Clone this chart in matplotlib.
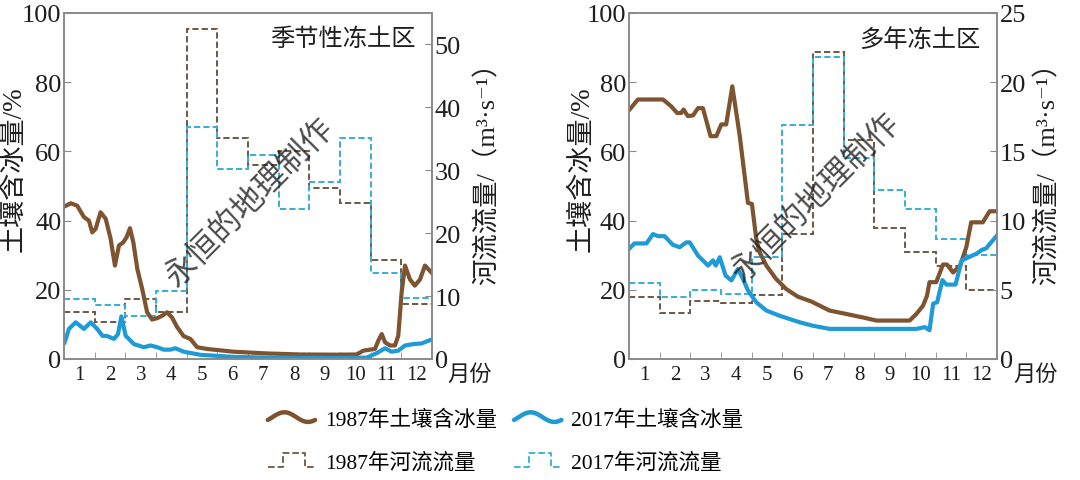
import numpy as np
import matplotlib
matplotlib.use("Agg")
import matplotlib.pyplot as plt
from matplotlib.lines import Line2D
from matplotlib.legend_handler import HandlerBase

FAM = ['Liberation Serif', 'Noto Sans CJK SC', 'DejaVu Serif']
plt.rcParams['font.family'] = FAM

months = np.arange(1, 13)
month_edges = np.arange(0.5, 13.0, 1.0)

# ---- Seasonal frozen ground (left panel) ----
s_flow_1987 = [7.4, 5.9, 9.6, 7.4, 52.4, 35.1, 30.9, 33.0, 27.2, 24.8, 15.7, 8.7]
s_flow_2017 = [9.6, 8.6, 6.9, 10.8, 36.9, 30.2, 32.5, 23.8, 28.2, 35.1, 13.6, 9.7]

s_ice_1987_x = [0.52, 0.72, 0.93, 1.15, 1.31, 1.42, 1.53, 1.69, 1.86, 2.02, 2.16, 2.29, 2.43, 2.54,
                2.65, 2.76, 2.89, 3.05, 3.21, 3.37, 3.54, 3.70, 3.86, 4.02, 4.19, 4.40, 4.62, 4.84,
                5.16, 6.03, 7.12, 8.20, 9.29, 10.04, 10.26, 10.48, 10.64, 10.75, 10.86, 10.97,
                11.13, 11.29, 11.40, 11.51, 11.62, 11.78, 11.94, 12.11, 12.27, 12.48]
s_ice_1987_y = [44.1, 45.0, 44.3, 41.0, 40.0, 36.6, 37.6, 42.4, 40.5, 34.7, 27.0, 32.8, 33.7, 35.2,
                37.8, 33.7, 26.0, 20.2, 13.5, 11.4, 11.8, 12.5, 13.5, 12.0, 9.2, 6.6, 5.8, 3.4,
                2.9, 2.1, 1.6, 1.3, 1.25, 1.3, 2.4, 2.7, 2.9, 5.3, 7.2, 4.8,
                3.9, 3.9, 6.7, 19.3, 27.0, 23.0, 21.2, 23.0, 27.0, 25.0]

s_ice_2017_x = [0.52, 0.66, 0.88, 1.15, 1.37, 1.58, 1.75, 1.91, 2.13, 2.26, 2.37, 2.51, 2.78, 3.10,
                3.32, 3.54, 3.75, 3.97, 4.13, 4.40, 4.95, 6.03, 7.12, 9.29, 10.37, 10.70, 10.97,
                11.18, 11.40, 11.62, 11.89, 12.16, 12.48]
s_ice_2017_y = [4.8, 8.7, 10.6, 8.7, 10.6, 8.7, 6.7, 6.6, 5.8, 7.2, 12.3, 6.7, 4.3, 3.4,
                3.9, 3.4, 2.7, 2.7, 3.1, 2.1, 1.2, 0.6, 0.4, 0.3, 0.4, 1.7, 3.1,
                2.1, 2.4, 3.9, 4.3, 4.5, 5.6]

# ---- Permafrost (right panel) ----
p_flow_1987 = [4.5, 3.3, 4.2, 4.05, 4.65, 9.0, 22.2, 15.8, 9.5, 7.7, 6.7, 5.0]
p_flow_2017 = [5.5, 4.45, 5.0, 4.7, 7.35, 16.9, 21.85, 14.5, 12.2, 10.85, 8.7, 7.5]

p_ice_1987_x = [0.52, 0.79, 1.61, 1.88, 2.07, 2.20, 2.28, 2.42, 2.59, 2.75, 2.91, 3.16, 3.35, 3.51,
                3.67, 3.87, 4.11, 4.38, 4.51, 4.65, 4.76, 4.98, 5.30, 5.63, 6.01, 6.45, 7.04,
                7.59, 8.13, 8.57, 9.65, 9.87, 10.09, 10.22, 10.30, 10.52, 10.74, 10.87, 11.07,
                11.30, 11.50, 11.66, 12.04, 12.26, 12.48]
p_ice_1987_y = [72.1, 75.0, 75.0, 73.0, 71.1, 71.1, 72.1, 70.2, 70.4, 72.5, 72.5, 64.4, 64.4, 67.8,
                67.8, 78.8, 64.6, 45.1, 44.8, 34.7, 30.8, 27.0, 23.1, 20.2, 18.0, 16.6, 14.0,
                13.0, 12.0, 11.1, 11.1, 13.0, 15.4, 18.3, 22.2, 22.2, 27.3, 27.3, 25.0,
                27.0, 32.3, 39.5, 39.5, 42.7, 42.7]

p_ice_2017_x = [0.50, 0.68, 1.07, 1.28, 1.45, 1.66, 1.93, 2.15, 2.37, 2.48, 2.75, 3.08, 3.24, 3.33,
                3.46, 3.65, 3.84, 4.05, 4.22, 4.38, 4.65, 4.98, 5.41, 6.07, 6.50, 7.04, 9.87,
                10.15, 10.30, 10.42, 10.55, 10.72, 10.85, 11.15, 11.35, 11.60, 11.85, 12.00,
                12.15, 12.48]
p_ice_2017_y = [31.8, 33.4, 33.4, 36.1, 35.5, 35.5, 33.0, 32.3, 33.7, 33.7, 29.9, 27.0, 28.5, 27.0,
                29.4, 24.1, 22.7, 26.0, 23.1, 19.8, 16.4, 14.0, 12.5, 10.6, 9.6, 8.7, 8.7,
                9.2, 8.3, 16.0, 16.4, 22.8, 21.5, 21.5, 28.5, 29.5, 30.5, 31.5,
                32.0, 35.5]

legend_labels = ['1987年土壤含冰量', '2017年土壤含冰量', '1987年河流流量', '2017年河流流量']

BROWN = '#7d5330'
BLUE = '#1e9ad6'
BROWN_D = '#6e5744'
BLUE_D = '#35aed6'
SPINE = '#8a8a8a'
TXT = '#1e1e1e'

fig = plt.figure(figsize=(10.8, 4.81), dpi=100)

def make_panel(rect, flow87, flow17, x87, y87, x17, y17, rmax, rticks, title):
    ax = fig.add_axes(rect)
    ax2 = ax.twinx()
    ax.set_zorder(ax2.get_zorder() + 1)
    ax.patch.set_visible(False)

    ax2.stairs(flow87, month_edges, baseline=None, color=BROWN_D, lw=1.4,
               linestyle=(0, (3.2, 1.6)))
    ax2.stairs(flow17, month_edges, baseline=None, color=BLUE_D, lw=1.4,
               linestyle=(0, (3.2, 1.6)))
    ax.plot(x87, y87, color=BROWN, lw=3.0, solid_joinstyle='round')
    ax.plot(x17, y17, color=BLUE, lw=3.0, solid_joinstyle='round')

    ax.set_xlim(0.5, 12.5)
    ax.set_ylim(0, 100)
    ax2.set_ylim(0, rmax)
    ax.set_yticks([0, 20, 40, 60, 80, 100])
    ax2.set_yticks(rticks)
    ax.set_xticks(months)
    ax.set_xticks(np.arange(1.5, 12.0, 1.0), minor=True)
    ax.tick_params(axis='x', which='major', length=0, labelsize=15, pad=4, labelcolor=TXT)
    ax.tick_params(axis='x', which='minor', direction='in', length=5, color=SPINE)
    ax.tick_params(axis='y', direction='in', length=5, color=SPINE, labelsize=19, pad=2,
                   labelcolor=TXT)
    ax2.tick_params(axis='y', direction='in', length=5, color=SPINE, labelsize=19, pad=2,
                    labelcolor=TXT)
    for a in (ax, ax2):
        for s in a.spines.values():
            s.set_color(SPINE)
            s.set_linewidth(1.2)
    ax.text(0.955, 0.925, title, transform=ax.transAxes, ha='right', va='center',
            fontsize=17.5, color=TXT)
    return ax, ax2

axL = make_panel([0.0593, 0.2516, 0.3407, 0.7193], s_flow_1987, s_flow_2017,
                 s_ice_1987_x, s_ice_1987_y, s_ice_2017_x, s_ice_2017_y,
                 55, [0, 10, 20, 30, 40, 50], '季节性冻土区')
axR = make_panel([0.5824, 0.2516, 0.3407, 0.7193], p_flow_1987, p_flow_2017,
                 p_ice_1987_x, p_ice_1987_y, p_ice_2017_x, p_ice_2017_y,
                 25, [0, 5, 10, 15, 20, 25], '多年冻土区')

ylab = '土壤含冰量/%'
rlab = '河流流量/（m³·s⁻¹）'
for xl, xr, xm in [(0.013, 0.451, 0.414), (0.539, 0.970, 0.938)]:
    fig.text(xl, 0.649, ylab, rotation=90, ha='center', va='center', fontsize=19.5, color=TXT)
    fig.text(xr, 0.652, rlab, rotation=90, ha='center', va='center', fontsize=19, color=TXT)
    fig.text(xm, 0.22, '月份', ha='left', va='center', fontsize=16, color=TXT)

# watermark
for xw, yw in [(0.232, 0.578), (0.756, 0.588)]:
    fig.text(xw, yw, '永恒的地理制作', rotation=45, ha='center', va='center',
             fontsize=23, color='#1a1a1a', alpha=0.78, zorder=10)


class WaveHandler(HandlerBase):
    def create_artists(self, legend, orig_handle, xdescent, ydescent, width, height,
                       fontsize, trans):
        t = np.linspace(0, 1, 40)
        x = -xdescent + width * t
        y = -ydescent + height / 2 + height * 0.32 * np.cos(2 * np.pi * (t - 0.35))
        ln = Line2D(x, y, color=orig_handle.get_color(), lw=orig_handle.get_linewidth(),
                    solid_capstyle='round', transform=trans)
        return [ln]


class StepHandler(HandlerBase):
    def create_artists(self, legend, orig_handle, xdescent, ydescent, width, height,
                       fontsize, trans):
        x0 = -xdescent
        lo = -ydescent + height * 0.05
        hi = -ydescent + height * 0.95
        x = [x0, x0 + 0.32 * width, x0 + 0.32 * width, x0 + 0.78 * width,
             x0 + 0.78 * width, x0 + width]
        y = [lo, lo, hi, hi, lo, lo]
        ln = Line2D(x, y, color=orig_handle.get_color(), lw=orig_handle.get_linewidth(),
                    linestyle=orig_handle.get_linestyle(), transform=trans)
        return [ln]


h_i87 = Line2D([], [], color=BROWN, lw=3.2)
h_i17 = Line2D([], [], color=BLUE, lw=3.2)
h_f87 = Line2D([], [], color=BROWN_D, lw=1.3, linestyle=(0, (1.6, 1.0)))
h_f17 = Line2D([], [], color=BLUE_D, lw=1.3, linestyle=(0, (1.6, 1.0)))
handles = [h_i87, h_f87, h_i17, h_f17]
labels = [legend_labels[0], legend_labels[2], legend_labels[1], legend_labels[3]]
fig.legend(handles, labels, ncol=2, loc='center', bbox_to_anchor=(0.468, 0.081),
           frameon=False, fontsize=15.5, handlelength=2.2, columnspacing=0.8,
           handletextpad=0.45, labelspacing=1.05, borderpad=0.2,
           handler_map={h_i87: WaveHandler(), h_i17: WaveHandler(),
                        h_f87: StepHandler(), h_f17: StepHandler()})

fig.savefig('out.png', dpi=100)
